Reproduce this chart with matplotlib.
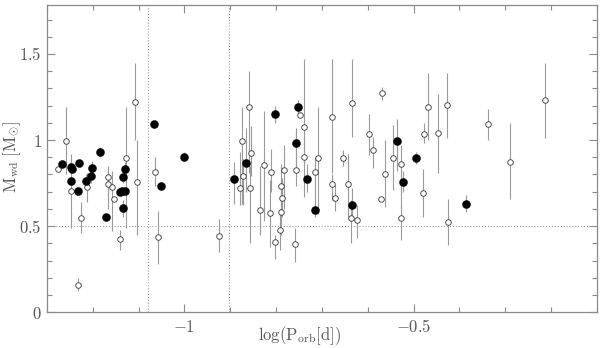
import numpy as np
import matplotlib
matplotlib.use("Agg")
import matplotlib.pyplot as plt
from matplotlib.ticker import MultipleLocator, FixedLocator, FixedFormatter

plt.rcParams['mathtext.fontset'] = 'cm'
plt.rcParams['font.family'] = 'DejaVu Serif'

# open circles: log(P), Mwd, lower, upper (nan = no error bar)
open_x = [-1.275, -1.258, -1.247, -1.225, -1.231, -1.212, -1.167, -1.167, -1.158, -1.153,
          -1.140, -1.127, -1.107, -1.103, -1.063, -1.058, -0.925, -0.860, -0.874, -0.855,
          -0.826, -0.872, -0.879, -0.856, -0.834, -0.813, -0.810, -0.802, -0.791, -0.789,
          -0.788, -0.789, -0.782, -0.758, -0.748, -0.739, -0.739, -0.757, -0.714, -0.708,
          -0.679, -0.679, -0.671, -0.654, -0.642, -0.635, -0.636, -0.624, -0.598, -0.589,
          -0.568, -0.571, -0.562, -0.546, -0.528, -0.528, -0.477, -0.480, -0.468, -0.447,
          -0.427, -0.426, -0.338, -0.289, -0.214]
open_y = [0.833, 0.994, 0.705, 0.545, 0.157, 0.727, 0.785, 0.744, 0.725, 0.655,
          0.426, 0.893, 1.223, 0.756, 0.816, 0.436, 0.444, 1.194, 0.994, 0.924,
          0.853, 0.793, 0.723, 0.723, 0.595, 0.575, 0.814, 0.405, 0.475, 0.583,
          0.665, 0.735, 0.824, 0.397, 1.143, 1.074, 0.903, 0.824, 0.814, 0.894,
          1.134, 0.744, 0.665, 0.894, 0.744, 1.213, 0.545, 0.535, 1.033, 0.944,
          1.273, 0.655, 0.804, 0.894, 0.862, 0.545, 1.033, 0.694, 1.192, 1.043,
          1.201, 0.525, 1.093, 0.874, 1.233]
open_lo = [np.nan, 0.80, 0.49, 0.46, 0.12, 0.64, 0.70, 0.60, 0.47, np.nan,
           0.36, 0.49, 1.00, 0.45, 0.73, 0.28, 0.35, 0.81, 0.63, 0.79,
           0.53, 0.62, 0.62, 0.40, 0.45, 0.38, 0.70, 0.31, 0.36, 0.45,
           0.55, 0.60, 0.60, 0.29, np.nan, 0.85, 0.67, 0.73, 0.58, 0.57,
           0.81, 0.65, 0.59, 0.85, 0.55, 1.02, 0.40, 0.43, 0.91, 0.84,
           1.23, np.nan, 0.61, 0.71, 0.60, 0.42, 0.98, 0.55, 1.00, 0.81,
           1.01, 0.39, 1.00, 0.66, 1.01]
open_hi = [np.nan, 1.19, 0.92, 0.64, 0.20, 0.81, 0.85, 0.84, 0.82, np.nan,
           0.48, 1.19, 1.45, 1.00, 0.90, 0.59, 0.54, 1.40, 1.19, 1.08,
           1.17, 0.89, 0.93, 0.85, 0.85, 0.77, 0.95, 0.45, 0.60, 0.72,
           0.78, 0.86, 0.97, 0.49, np.nan, 1.47, 1.05, 1.05, 0.90, 1.19,
           1.47, 0.80, 0.74, 0.94, 0.92, 1.47, 0.65, 0.62, 1.15, 1.02,
           1.31, np.nan, 1.00, 1.09, 0.97, 0.62, 1.10, 0.83, 1.39, 1.27,
           1.39, 0.66, 1.18, 1.10, 1.45]

# filled circles
fill_x = [-1.267, -1.247, -1.245, -1.247, -1.230, -1.231, -1.215, -1.203, -1.201, -1.185,
          -1.171, -1.141, -1.135, -1.129, -1.133, -1.129, -1.134, -1.067, -1.052, -1.001,
          -0.866, -0.891, -0.802, -0.753, -0.757, -0.732, -0.714, -0.635, -0.537, -0.523,
          -0.494, -0.386]
fill_y = [0.860, 0.845, 0.830, 0.762, 0.866, 0.703, 0.764, 0.789, 0.835, 0.930,
          0.554, 0.698, 0.703, 0.703, 0.783, 0.833, 0.605, 1.091, 0.731, 0.903,
          0.864, 0.773, 1.153, 1.192, 0.984, 0.773, 0.595, 0.624, 0.994, 0.754,
          0.894, 0.626]
fill_lo = [np.nan, 0.80, np.nan, np.nan, np.nan, np.nan, 0.72, 0.75, 0.80, 0.90,
           np.nan, np.nan, np.nan, np.nan, 0.75, 0.80, 0.55, np.nan, np.nan, 0.88,
           0.70, 0.63, 1.10, 1.15, 0.80, 0.70, 0.55, 0.55, 0.82, 0.70,
           0.86, 0.58]
fill_hi = [np.nan, 0.90, np.nan, np.nan, np.nan, np.nan, 0.80, 0.82, 0.88, 0.96,
           np.nan, np.nan, np.nan, np.nan, 0.82, 0.87, 0.65, np.nan, np.nan, 0.93,
           1.07, 0.87, 1.20, 1.23, 1.07, 0.86, 0.65, 0.72, 1.12, 0.82,
           0.93, 0.68]

period_gap = [np.log10(2.0 / 24), np.log10(3.0 / 24)]

fig = plt.figure(figsize=(6.0, 3.48), dpi=100)
ax = fig.add_axes([0.078, 0.103, 0.917, 0.884])

grey = '#8a8a8a'
bar_col = '#9a9a9a'
txt = '#555555'

for xs, ys, lo, hi in [(open_x, open_y, open_lo, open_hi), (fill_x, fill_y, fill_lo, fill_hi)]:
    xs = np.array(xs); lo = np.array(lo); hi = np.array(hi)
    ok = ~np.isnan(lo)
    ax.vlines(xs[ok], lo[ok], hi[ok], color=bar_col, lw=0.8, zorder=1)

ax.axhline(0.5, color=grey, ls=(0, (1, 2)), lw=0.7, zorder=0)
for g in period_gap:
    ax.axvline(g, color=grey, ls=(0, (1, 2)), lw=0.7, zorder=0)

ax.plot(open_x, open_y, 'o', ms=4.0, mfc='white', mec='#333333', mew=0.6, zorder=2)
ax.plot(fill_x, fill_y, 'o', ms=5.8, mfc='black', mec='black', mew=0.3, zorder=3)

ax.set_xlim(-1.30, -0.10)
ax.set_ylim(0, 1.787)

ax.xaxis.set_major_locator(FixedLocator([-1.0, -0.5]))
ax.xaxis.set_major_formatter(FixedFormatter([r'$-1$', r'$-0.5$']))
ax.xaxis.set_minor_locator(MultipleLocator(0.1))
ax.yaxis.set_major_locator(FixedLocator([0, 0.5, 1.0, 1.5]))
ax.yaxis.set_major_formatter(FixedFormatter([r'$0$', r'$0.5$', r'$1$', r'$1.5$']))
ax.yaxis.set_minor_locator(MultipleLocator(0.1))

ax.tick_params(which='both', direction='in', top=True, right=True, color=grey,
               labelcolor=txt, labelsize=12, width=0.8)
ax.tick_params(which='major', length=6)
ax.tick_params(which='minor', length=3.5)
ax.tick_params(axis='x', pad=5)
for s in ax.spines.values():
    s.set_color(grey)
    s.set_linewidth(0.9)

fig.text(0.5, 0.035, r'$\log(\mathrm{P_{orb}[d]})$', color=txt, fontsize=12,
         ha='center', va='center')
fig.text(0.02, 0.55, r'$\mathrm{M_{wd}\ [M_{\odot}]}$', color=txt, fontsize=12,
         ha='center', va='center', rotation=90)

fig.savefig('out.png', dpi=100)
